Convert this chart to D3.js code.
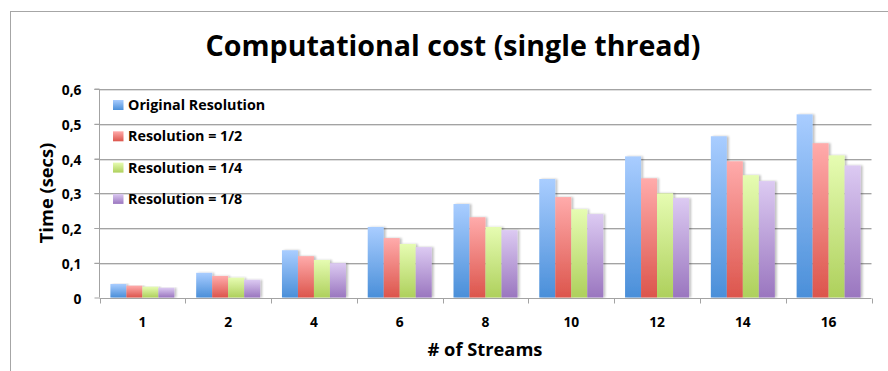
<!DOCTYPE html>
<html><head><meta charset="utf-8">
<script src="https://cdn.jsdelivr.net/npm/d3@7"></script>
<style>
html,body{margin:0;padding:0;background:#fff;}
svg{display:block;font-family:"Open Sans",Lato,sans-serif;}
</style></head>
<body>
<svg id="c" width="888" height="371"></svg>
<script>
const categories = ["1","2","4","6","8","10","12","14","16"];
const seriesNames = ["Original Resolution","Resolution = 1/2","Resolution = 1/4","Resolution = 1/8"];
const original = [0.039,0.071,0.136,0.203,0.269,0.341,0.406,0.464,0.527];
const half     = [0.034,0.062,0.119,0.171,0.231,0.289,0.343,0.392,0.444];
const quarter  = [0.031,0.057,0.108,0.154,0.203,0.254,0.300,0.352,0.409];
const eighth   = [0.028,0.051,0.099,0.145,0.194,0.240,0.286,0.335,0.380];
const yTicks = [0,0.1,0.2,0.3,0.4,0.5,0.6];
const yTickLabels = ["0","0,1","0,2","0,3","0,4","0,5","0,6"];
const colorsTop = ["#a9cdff","#ffabab","#e6fcb2","#dccaf2"];
const colorsBot = ["#4a8fd9","#dc554c","#aed05c","#9a76bf"];

const seriesValues = [original, half, quarter, eighth];
const svg = d3.select("#c");
const m = {left:99.5, right:871.5, top:89, bottom:297.5};

// frame
svg.append("rect").attr("x",10.5).attr("y",11.5).attr("width",900).attr("height",400)
  .attr("fill","none").attr("stroke","#a6a6a6").attr("stroke-width",1);

const defs = svg.append("defs");
seriesNames.forEach((s,i)=>{
  const g = defs.append("linearGradient").attr("id","g"+i).attr("x1",0).attr("y1",0).attr("x2",0).attr("y2",1);
  g.append("stop").attr("offset","0%").attr("stop-color",colorsTop[i]);
  g.append("stop").attr("offset","100%").attr("stop-color",colorsBot[i]);
});
const f = defs.append("filter").attr("id","sh").attr("x","-20%").attr("y","-5%").attr("width","160%").attr("height","110%");
f.append("feGaussianBlur").attr("in","SourceAlpha").attr("stdDeviation",1.2).attr("result","b");
f.append("feOffset").attr("in","b").attr("dx",2).attr("dy",0).attr("result","o");
f.append("feComponentTransfer").attr("in","o").attr("result","o2")
  .append("feFuncA").attr("type","linear").attr("slope",0.25);
const fm = f.append("feMerge");
fm.append("feMergeNode").attr("in","o2");
fm.append("feMergeNode").attr("in","SourceGraphic");

const x = d3.scaleBand().domain(categories).range([m.left,m.right]).paddingInner(0.254).paddingOuter(0.127);
const xs = d3.scaleBand().domain(seriesNames).range([0,x.bandwidth()]);
const y = d3.scaleLinear().domain([0,0.6]).range([m.bottom,m.top]);

// gridlines
const grid = svg.append("g");
yTicks.slice(1).forEach(t=>{
  grid.append("line").attr("x1",m.left-5).attr("x2",m.right).attr("y1",Math.round(y(t))+0.5).attr("y2",Math.round(y(t))+0.5)
    .attr("stroke","#a3a3a3").attr("stroke-width",1);
  grid.append("line").attr("x1",m.left).attr("x2",m.right).attr("y1",Math.round(y(t))+1.5).attr("y2",Math.round(y(t))+1.5)
    .attr("stroke","#dedede").attr("stroke-width",1);
});

// bars
categories.forEach((c,ci)=>{
  const g = svg.append("g").attr("transform",`translate(${x(c)},0)`);
  seriesNames.forEach((s,si)=>{
    const v = seriesValues[si][ci];
    g.append("rect").attr("x",xs(s)).attr("width",xs.bandwidth())
      .attr("y",y(v)).attr("height",y(0)-y(v)).attr("fill",`url(#g${si})`).attr("filter","url(#sh)");
  });
});

const fontBold = (sel,size)=>sel.attr("font-family","'Open Sans',Lato,sans-serif").attr("font-size",size).attr("font-weight","bold").attr("fill","#000");

// y axis
const ya = d3.axisLeft(y).tickValues(yTicks).tickSize(5).tickFormat((d,i)=>yTickLabels[i]);
const yg = svg.append("g").attr("transform",`translate(${m.left},0)`).call(ya);
yg.select(".domain").attr("stroke","#a3a3a3").attr("d",`M-5,${m.top}H0V${m.bottom}`);
yg.selectAll(".tick line").attr("stroke","#a3a3a3");
fontBold(yg.selectAll(".tick text").attr("x",-18).attr("dy","0.4em"),13.8);

// x axis
const xg = svg.append("g").attr("transform",`translate(0,${Math.round(m.bottom)+0.5})`);
xg.append("line").attr("x1",m.left).attr("x2",m.right).attr("stroke","#a3a3a3");
const bounds = categories.map(c=>x(c)-x.step()*0.127).concat([m.right]);
bounds.forEach(b=>xg.append("line").attr("x1",Math.round(b)+0.5).attr("x2",Math.round(b)+0.5).attr("y1",0).attr("y2",5).attr("stroke","#a3a3a3"));
categories.forEach(c=>{
  fontBold(xg.append("text").attr("x",x(c)+x.bandwidth()/2).attr("y",28.5).attr("text-anchor","middle"),13.8).text(c);
});

// titles
fontBold(svg.append("text").attr("x",453).attr("y",56).attr("text-anchor","middle"),28.6).text("Computational cost (single thread)");
fontBold(svg.append("text").attr("transform","translate(53,193) rotate(-90)").attr("text-anchor","middle"),18.3).text("Time (secs)");
fontBold(svg.append("text").attr("x",485).attr("y",356).attr("text-anchor","middle"),18.3).text("# of Streams");

// legend
const lg = svg.append("g");
seriesNames.forEach((s,i)=>{
  const cy = 105 + i*31.3;
  lg.append("rect").attr("x",113).attr("y",cy-5).attr("width",10.5).attr("height",10).attr("fill",`url(#g${i})`);
  fontBold(lg.append("text").attr("x",128).attr("y",cy).attr("dy","0.36em"),14.3).text(s);
});
</script>
</body></html>
